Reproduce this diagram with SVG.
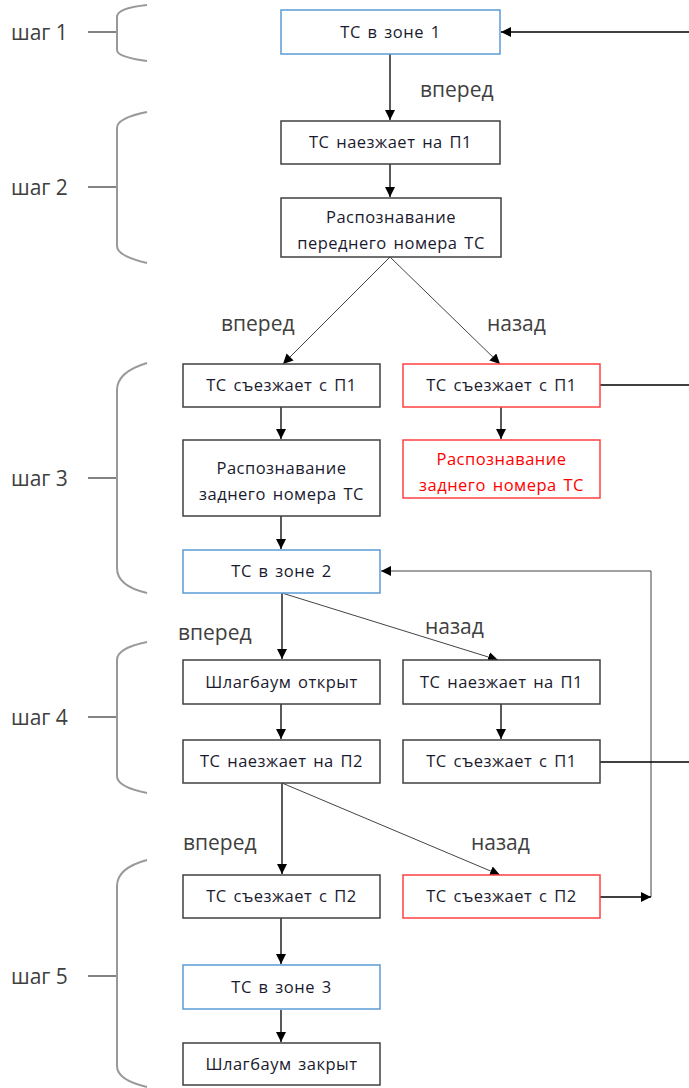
<svg xmlns="http://www.w3.org/2000/svg" width="689" height="1088" viewBox="0 0 689 1088">
<defs>
<marker id="ah" viewBox="0 0 10 10" refX="10" refY="5" markerWidth="10" markerHeight="10" markerUnits="userSpaceOnUse" orient="auto">
<path d="M0,0 L10,5 L0,10 z" fill="#000"/>
</marker>
<style>
.box{fill:#fff;stroke:#404040;stroke-width:1.5}
.blue{fill:#fff;stroke:#5b9bd5;stroke-width:1.5}
.red{fill:#fff;stroke:#ff4040;stroke-width:1.5}
.t{font-family:"Open Sans","Noto Sans",sans-serif;font-size:16.5px;letter-spacing:0.5px;word-spacing:2px;fill:#1a1a2e;text-anchor:middle}
.tr{fill:#ff0000}
.lbl{font-family:"Open Sans","Noto Sans",sans-serif;font-size:21px;fill:#404040}
.c{stroke:#000;stroke-width:1.3;fill:none}
.cg{stroke:#444;stroke-width:1;fill:none}
.br{stroke:#999;stroke-width:2;fill:none}
.tk{stroke:#404040;stroke-width:1.3;fill:none}
</style>
</defs>
<rect width="689" height="1088" fill="#fff"/>

<g id="steps">
<text class="lbl" x="11" y="40">шаг 1</text>
<line class="tk" x1="88" y1="32" x2="117" y2="32"/>
<path class="br" d="M147,5 Q117,8 117,17 L117,50 Q117,57 147,61"/>
<text class="lbl" x="11" y="195">шаг 2</text>
<line class="tk" x1="88" y1="187" x2="117" y2="187"/>
<path class="br" d="M147,112 Q117,118 117,128 L117,246 Q117,256 147,263"/>
<text class="lbl" x="11" y="486">шаг 3</text>
<line class="tk" x1="88" y1="478" x2="117" y2="478"/>
<path class="br" d="M147,363 Q117,372 117,390 L117,568 Q117,586 147,593"/>
<text class="lbl" x="11" y="725">шаг 4</text>
<line class="tk" x1="88" y1="717" x2="117" y2="717"/>
<path class="br" d="M147,642 Q117,648 117,660 L117,776 Q117,787 147,793"/>
<text class="lbl" x="11" y="984">шаг 5</text>
<line class="tk" x1="88" y1="976" x2="117" y2="976"/>
<path class="br" d="M147,860 Q117,868 117,886 L117,1066 Q117,1080 147,1087"/>
</g>

<g id="connectors">
<line class="c" x1="689" y1="32" x2="501" y2="32" marker-end="url(#ah)"/>
<line class="c" x1="390" y1="54" x2="390" y2="120" marker-end="url(#ah)"/>
<line class="c" x1="390" y1="164" x2="390" y2="197" marker-end="url(#ah)"/>
<line class="cg" x1="390" y1="257" x2="283" y2="364" marker-end="url(#ah)"/>
<line class="cg" x1="390" y1="257" x2="500" y2="364" marker-end="url(#ah)"/>
<line class="c" x1="600" y1="385" x2="689" y2="385"/>
<line class="c" x1="281" y1="407" x2="281" y2="439" marker-end="url(#ah)"/>
<line class="c" x1="501" y1="407" x2="501" y2="439" marker-end="url(#ah)"/>
<line class="c" x1="281" y1="516" x2="281" y2="549" marker-end="url(#ah)"/>
<polyline class="cg" points="651,897 651,571 381,571" marker-end="url(#ah)"/>
<line class="c" x1="282" y1="593" x2="282" y2="659" marker-end="url(#ah)"/>
<line class="cg" x1="282" y1="593" x2="498" y2="660" marker-end="url(#ah)"/>
<line class="c" x1="281" y1="704" x2="281" y2="739" marker-end="url(#ah)"/>
<line class="c" x1="501" y1="704" x2="501" y2="739" marker-end="url(#ah)"/>
<line class="c" x1="600" y1="762" x2="689" y2="762"/>
<line class="c" x1="282" y1="783" x2="282" y2="874" marker-end="url(#ah)"/>
<line class="cg" x1="282" y1="783" x2="500" y2="875" marker-end="url(#ah)"/>
<line class="c" x1="600" y1="897" x2="651" y2="897" marker-end="url(#ah)"/>
<line class="c" x1="281" y1="918" x2="281" y2="964" marker-end="url(#ah)"/>
<line class="c" x1="281" y1="1010" x2="281" y2="1042" marker-end="url(#ah)"/>
</g>

<g id="labels">
<text class="lbl" x="420" y="97">вперед</text>
<text class="lbl" x="221" y="331">вперед</text>
<text class="lbl" x="487" y="331">назад</text>
<text class="lbl" x="178" y="640">вперед</text>
<text class="lbl" x="425" y="634">назад</text>
<text class="lbl" x="183" y="850">вперед</text>
<text class="lbl" x="471" y="850">назад</text>
</g>

<g id="n1"><rect class="blue" x="281" y="10" width="219" height="44"/><text class="t" x="390.5" y="38">ТС в зоне 1</text></g>
<g id="n2"><rect class="box" x="281" y="121" width="219" height="43"/><text class="t" x="390.5" y="148">ТС наезжает на П1</text></g>
<g id="n3"><rect class="box" x="281" y="198" width="220" height="59"/><text class="t" x="391" y="223">Распознавание</text><text class="t" x="391" y="249">переднего номера ТС</text></g>
<g id="n4"><rect class="box" x="183" y="364" width="197" height="43"/><text class="t" x="281.5" y="391">ТС съезжает с П1</text></g>
<g id="n5"><rect class="red" x="403" y="364" width="197" height="43"/><text class="t" x="501.5" y="391">ТС съезжает с П1</text></g>
<g id="n6"><rect class="box" x="183" y="440" width="197" height="76"/><text class="t" x="281.5" y="474">Распознавание</text><text class="t" x="281.5" y="500">заднего номера ТС</text></g>
<g id="n7"><rect class="red" x="403" y="440" width="197" height="58"/><text class="t tr" x="501.5" y="465">Распознавание</text><text class="t tr" x="501.5" y="491">заднего номера ТС</text></g>
<g id="n8"><rect class="blue" x="183" y="550" width="197" height="43"/><text class="t" x="281.5" y="577">ТС в зоне 2</text></g>
<g id="n9"><rect class="box" x="183" y="660" width="197" height="44"/><text class="t" x="281.5" y="688">Шлагбаум открыт</text></g>
<g id="n10"><rect class="box" x="403" y="660" width="197" height="44"/><text class="t" x="501.5" y="688">ТС наезжает на П1</text></g>
<g id="n11"><rect class="box" x="183" y="740" width="197" height="43"/><text class="t" x="281.5" y="767">ТС наезжает на П2</text></g>
<g id="n12"><rect class="box" x="403" y="740" width="197" height="43"/><text class="t" x="501.5" y="767">ТС съезжает с П1</text></g>
<g id="n13"><rect class="box" x="183" y="875" width="197" height="43"/><text class="t" x="281.5" y="902">ТС съезжает с П2</text></g>
<g id="n14"><rect class="red" x="403" y="875" width="197" height="43"/><text class="t" x="501.5" y="902">ТС съезжает с П2</text></g>
<g id="n15"><rect class="blue" x="183" y="965" width="197" height="44"/><text class="t" x="281.5" y="993">ТС в зоне 3</text></g>
<g id="n16"><rect class="box" x="183" y="1043" width="197" height="42"/><text class="t" x="281.5" y="1070">Шлагбаум закрыт</text></g>
</svg>
